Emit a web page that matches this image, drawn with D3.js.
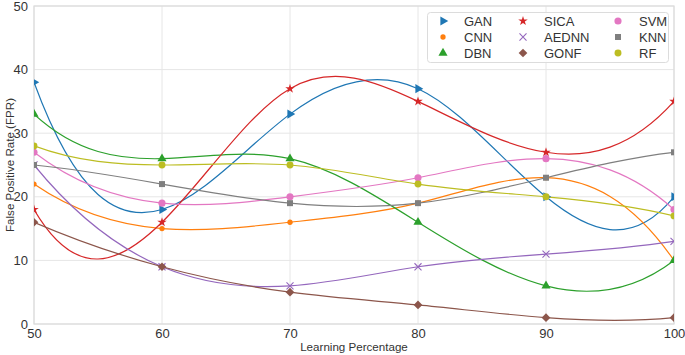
<!DOCTYPE html>
<html><head><meta charset="utf-8">
<script src="https://cdn.jsdelivr.net/npm/d3@7"></script>
<style>body{margin:0;background:#fff}svg{display:block;font-family:"Liberation Sans",Arial,sans-serif}</style>
</head><body><svg id="c" width="685" height="355"></svg>
<script>
const xValues = [50, 60, 70, 80, 90, 100];
const seriesNames = ["GAN","CNN","DBN","SICA","AEDNN","GONF","SVM","KNN","RF"];
const GAN   = [38, 18, 33, 37, 20, 20];
const CNN   = [22, 15, 16, 19, 23, 10];
const DBN   = [33, 26, 26, 16, 6, 10];
const SICA  = [18, 16, 37, 35, 27, 35];
const AEDNN = [25, 9, 6, 9, 11, 13];
const GONF  = [16, 9, 5, 3, 1, 1];
const SVM   = [27, 19, 20, 23, 26, 18];
const KNN   = [25, 22, 19, 19, 23, 27];
const RF    = [28, 25, 25, 22, 20, 17];
const xTicks = [50, 60, 70, 80, 90, 100];
const yTicks = [0, 10, 20, 30, 40, 50];

const seriesValues = {GAN, CNN, DBN, SICA, AEDNN, GONF, SVM, KNN, RF};
const colors = {GAN:"#1f77b4",CNN:"#ff7f0e",DBN:"#2ca02c",SICA:"#d62728",AEDNN:"#9467bd",GONF:"#8c564b",SVM:"#e377c2",KNN:"#7f7f7f",RF:"#bcbd22"};
const markers = {
  GAN:{type:d3.symbolTriangle,size:36,rot:90},
  CNN:{type:d3.symbolCircle,size:22,rot:0},
  DBN:{type:d3.symbolTriangle,size:36,rot:0},
  SICA:{type:d3.symbolStar,size:28,rot:0},
  AEDNN:{type:d3.symbolX,size:34,rot:0,stroke:true},
  GONF:{type:d3.symbolSquare,size:38,rot:45},
  SVM:{type:d3.symbolCircle,size:40,rot:0},
  KNN:{type:d3.symbolSquare,size:36,rot:0},
  RF:{type:d3.symbolCircle,size:38,rot:0}
};

// not-a-knot cubic spline curve (like scipy make_interp_spline k=3)
function NotAKnot(context){this._context=context;}
NotAKnot.prototype={
  areaStart(){this._line=0;},areaEnd(){this._line=NaN;},
  lineStart(){this._x=[];this._y=[];},
  point(x,y){this._x.push(+x);this._y.push(+y);},
  lineEnd(){
    const X=this._x,Y=this._y,n=X.length,c=this._context;
    if(!n)return;
    c.moveTo(X[0],Y[0]);
    if(n<4){for(let i=1;i<n;i++)c.lineTo(X[i],Y[i]);return;}
    const h=[];for(let i=0;i<n-1;i++)h.push(X[i+1]-X[i]);
    const A=[],b=[];
    for(let i=0;i<n;i++){A.push(new Array(n).fill(0));b.push(0);}
    A[0][0]=-h[1];A[0][1]=h[0]+h[1];A[0][2]=-h[0];
    for(let i=1;i<n-1;i++){
      A[i][i-1]=h[i-1];A[i][i]=2*(h[i-1]+h[i]);A[i][i+1]=h[i];
      b[i]=6*((Y[i+1]-Y[i])/h[i]-(Y[i]-Y[i-1])/h[i-1]);
    }
    A[n-1][n-3]=-h[n-2];A[n-1][n-2]=h[n-3]+h[n-2];A[n-1][n-1]=-h[n-3];
    for(let k=0;k<n;k++){
      let p=k;for(let r=k+1;r<n;r++)if(Math.abs(A[r][k])>Math.abs(A[p][k]))p=r;
      [A[k],A[p]]=[A[p],A[k]];[b[k],b[p]]=[b[p],b[k]];
      for(let r=k+1;r<n;r++){const f=A[r][k]/A[k][k];if(!f)continue;for(let j=k;j<n;j++)A[r][j]-=f*A[k][j];b[r]-=f*b[k];}
    }
    const M=new Array(n).fill(0);
    for(let k=n-1;k>=0;k--){let s=b[k];for(let j=k+1;j<n;j++)s-=A[k][j]*M[j];M[k]=s/A[k][k];}
    for(let i=0;i<n-1;i++){
      const hi=h[i],s=(Y[i+1]-Y[i])/hi;
      const d0=s-hi*(2*M[i]+M[i+1])/6, d1=s+hi*(M[i]+2*M[i+1])/6;
      c.bezierCurveTo(X[i]+hi/3,Y[i]+d0*hi/3,X[i+1]-hi/3,Y[i+1]-d1*hi/3,X[i+1],Y[i+1]);
    }
  }
};
const curveNotAKnot = ctx => new NotAKnot(ctx);

const svg=d3.select("#c");
const m={l:34,r:674,t:6,b:324};
const x=d3.scaleLinear().domain([50,100]).range([m.l,m.r]);
const y=d3.scaleLinear().domain([0,50]).range([m.b,m.t]);

svg.append("defs").append("clipPath").attr("id","clip").append("rect")
  .attr("x",m.l).attr("y",m.t).attr("width",m.r-m.l).attr("height",m.b-m.t);

const g=svg.append("g");
g.selectAll(".gx").data(xTicks).join("line").attr("x1",d=>x(d)).attr("x2",d=>x(d)).attr("y1",m.t).attr("y2",m.b).attr("stroke","#e6e6e6").attr("stroke-width",1);
g.selectAll(".gy").data(yTicks).join("line").attr("y1",d=>y(d)).attr("y2",d=>y(d)).attr("x1",m.l).attr("x2",m.r).attr("stroke","#e6e6e6").attr("stroke-width",1);
g.append("rect").attr("x",m.l).attr("y",m.t).attr("width",m.r-m.l).attr("height",m.b-m.t).attr("fill","none").attr("stroke","#dcdcdc").attr("stroke-width",1.2);

const xa=svg.append("g").attr("transform",`translate(0,${m.b})`).call(d3.axisBottom(x).tickValues(xTicks).tickSize(0).tickPadding(5));
const ya=svg.append("g").attr("transform",`translate(${m.l},0)`).call(d3.axisLeft(y).tickValues(yTicks).tickSize(0).tickPadding(6));
[xa,ya].forEach(a=>{a.select(".domain").remove();a.selectAll("text").attr("fill","#333").style("font-size","13px").style("font-family","'Liberation Sans',Arial,sans-serif");});

svg.append("text").attr("x",(m.l+m.r)/2).attr("y",351).attr("text-anchor","middle").attr("fill","#333").style("font-size","11.6px").text("Learning Percentage");
svg.append("text").attr("transform",`translate(13.5,${(m.t+m.b)/2}) rotate(-90)`).attr("text-anchor","middle").attr("fill","#333").style("font-size","11.6px").text("False Positive Rate (FPR)");

const plot=svg.append("g").attr("clip-path","url(#clip)");
const line=d3.line().x((d,i)=>x(xValues[i])).y(d=>y(d)).curve(curveNotAKnot);

function drawMarker(sel,name){
  const mk=markers[name];
  const p=sel.append("path").attr("d",d3.symbol().type(mk.type).size(mk.size)());
  if(mk.stroke)p.attr("fill","none").attr("stroke",colors[name]).attr("stroke-width",1.1);
  else p.attr("fill",colors[name]);
  return p;
}

seriesNames.forEach(name=>{
  plot.append("path").attr("d",line(seriesValues[name])).attr("fill","none").attr("stroke",colors[name]).attr("stroke-width",1.2);
});
seriesNames.forEach(name=>{
  seriesValues[name].forEach((v,i)=>{
    const gg=plot.append("g").attr("transform",`translate(${x(xValues[i])},${y(v)}) rotate(${markers[name].rot})`);
    drawMarker(gg,name);
  });
});

const lg=svg.append("g");
lg.append("rect").attr("x",427.5).attr("y",12.5).attr("width",241).attr("height",50).attr("rx",3).attr("fill","#fff").attr("fill-opacity",0.85).attr("stroke","#dcdcdc");
const colX=[443,523,618], textX=[464,544,639], rowY=[21,37,53];
seriesNames.forEach((name,k)=>{
  const col=Math.floor(k/3),row=k%3;
  const gg=lg.append("g").attr("transform",`translate(${colX[col]},${rowY[row]}) rotate(${markers[name].rot})`);
  drawMarker(gg,name);
  lg.append("text").attr("x",textX[col]).attr("y",rowY[row]).attr("dy","0.35em").attr("fill","#333").style("font-size","13px").text(name);
});
</script></body></html>
